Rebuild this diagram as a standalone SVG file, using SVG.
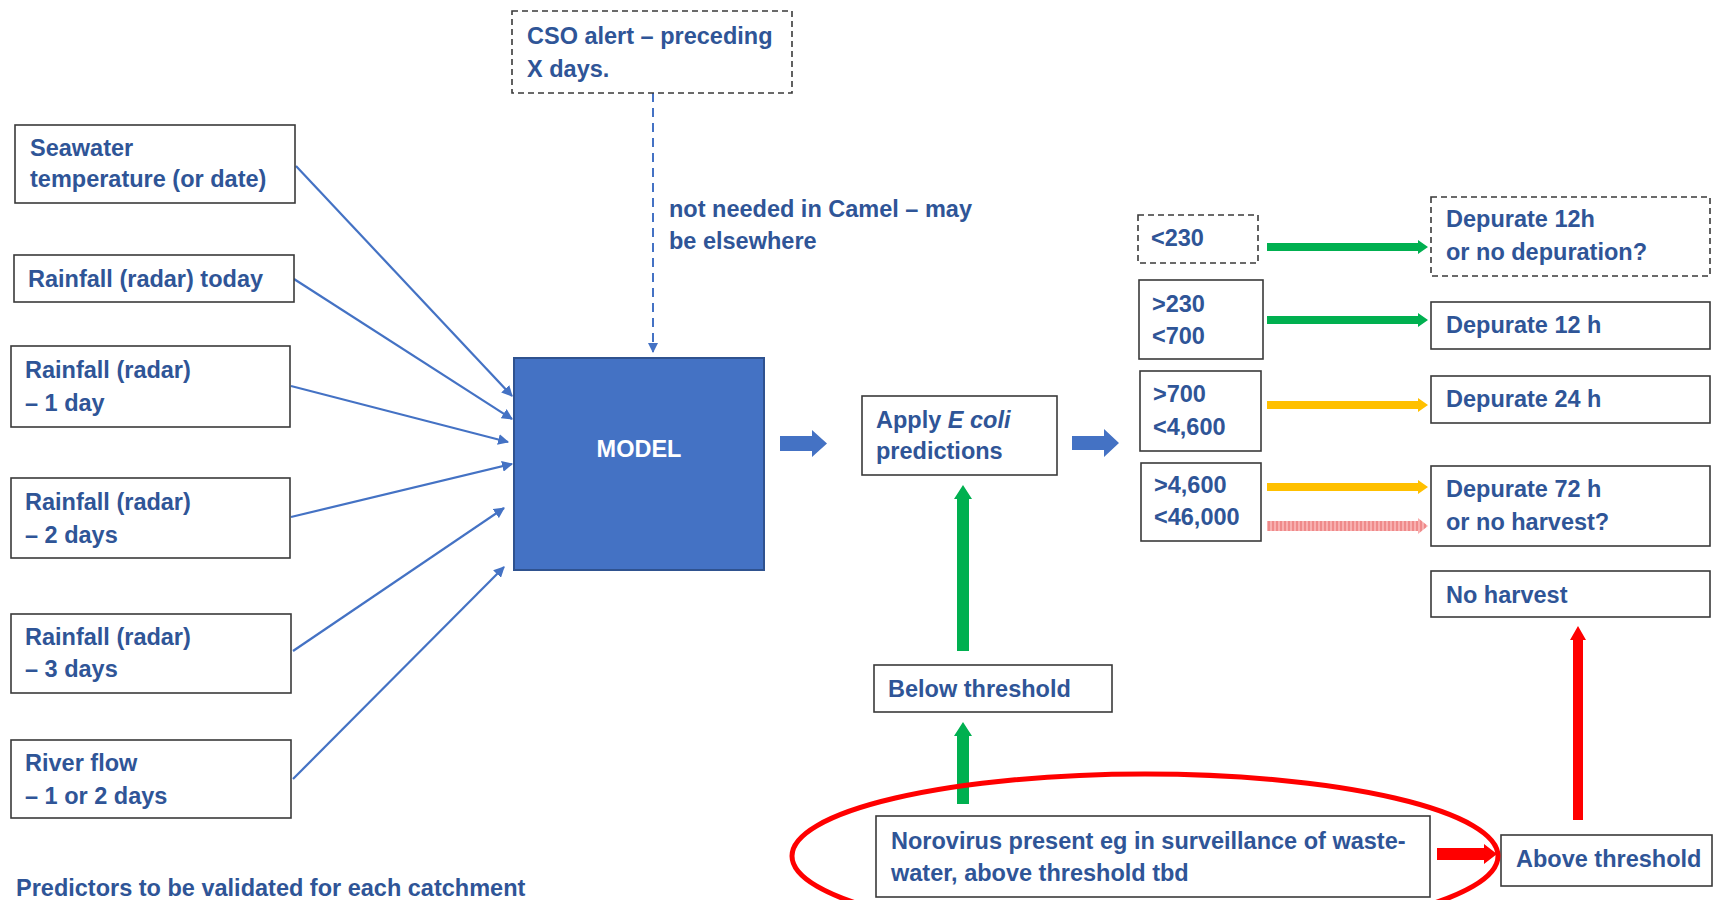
<svg xmlns="http://www.w3.org/2000/svg" width="1715" height="900" viewBox="0 0 1715 900">
<style>
.box{fill:#fff;stroke:#3a3a3a;stroke-width:1.6}
.dbox{fill:#fff;stroke:#3a3a3a;stroke-width:1.6;stroke-dasharray:6,4}
.t{font-family:"Liberation Sans",Arial,sans-serif;font-weight:bold;font-size:23.5px;fill:#2F5597}
.w{font-family:"Liberation Sans",Arial,sans-serif;font-weight:bold;font-size:23.5px;fill:#fff}
.ln{stroke:#4472C4;stroke-width:2.2;fill:none;marker-end:url(#ah)}
.dl{stroke:#4472C4;stroke-width:2;fill:none;stroke-dasharray:9,6;marker-end:url(#ah)}
.blue{fill:#4472C4}
.green{fill:#00B050}
.yellow{fill:#FFC000}
.red{fill:#FF0000}
</style>
<defs>
<marker id="ah" viewBox="0 0 10 10" refX="9" refY="5" markerWidth="5" markerHeight="5" orient="auto">
<path d="M0,0 L10,5 L0,10 z" fill="#4472C4"/>
</marker>
<pattern id="stripe" width="4" height="4" patternUnits="userSpaceOnUse">
<rect width="4" height="4" fill="#F8B0B0"/>
<rect width="2" height="4" fill="#EF8A8A"/>
</pattern>
</defs>
<rect width="1715" height="900" fill="#fff"/>

<g id="connectors">
<line class="dl" x1="653" y1="93" x2="653" y2="352"/>
<line class="ln" x1="296" y1="166" x2="512" y2="396"/>
<line class="ln" x1="294" y1="279" x2="512" y2="419"/>
<line class="ln" x1="291" y1="386" x2="508" y2="442"/>
<line class="ln" x1="291" y1="517" x2="512" y2="464"/>
<line class="ln" x1="293" y1="651" x2="504" y2="508"/>
<line class="ln" x1="293" y1="779" x2="504" y2="567"/>
<polygon class="blue" points="780,436 812,436 812,430 827,443.5 812,457 812,451 780,451"/>
<polygon class="blue" points="1072,436 1104,436 1104,429 1119,443 1104,457 1104,450 1072,450"/>
<polygon class="green" points="1267,243 1418,243 1418,240 1428,247 1418,254 1418,251 1267,251"/>
<polygon class="green" points="1267,316 1418,316 1418,313 1428,320 1418,327 1418,324 1267,324"/>
<polygon class="yellow" points="1267,401 1418,401 1418,398 1428,405 1418,412 1418,409 1267,409"/>
<polygon class="yellow" points="1267,483 1418,483 1418,480 1428,487 1418,494 1418,491 1267,491"/>
<polygon fill="url(#stripe)" points="1267,521 1418,521 1418,518 1428,526 1418,534 1418,531 1267,531"/>
<polygon class="green" points="957,651 957,499 954,499 963,485 972,499 969,499 969,651"/>
<polygon class="green" points="957,804 957,736 954,736 963,722 972,736 969,736 969,804"/>
<polygon class="red" points="1573,820 1573,640 1570,640 1578,626 1586,640 1583,640 1583,820"/>
<polygon class="red" points="1437,848 1484,848 1484,844 1497,854 1484,864 1484,860 1437,860"/>
</g>

<g id="cso"><rect class="dbox" x="512" y="11" width="280" height="82"/>
<text class="t" x="527" y="44">CSO alert – preceding</text><text class="t" x="527" y="77">X days.</text></g>
<g id="note"><text class="t" x="669" y="217">not needed in Camel – may</text><text class="t" x="669" y="249">be elsewhere</text></g>

<g id="seawater"><rect class="box" x="15" y="125" width="280" height="78"/>
<text class="t" x="30" y="156">Seawater</text><text class="t" x="30" y="187">temperature (or date)</text></g>
<g id="rain0"><rect class="box" x="14" y="255" width="280" height="47"/>
<text class="t" x="28" y="287">Rainfall (radar) today</text></g>
<g id="rain1"><rect class="box" x="11" y="346" width="279" height="81"/>
<text class="t" x="25" y="378">Rainfall (radar)</text><text class="t" x="25" y="411">– 1 day</text></g>
<g id="rain2"><rect class="box" x="11" y="478" width="279" height="80"/>
<text class="t" x="25" y="510">Rainfall (radar)</text><text class="t" x="25" y="543">– 2 days</text></g>
<g id="rain3"><rect class="box" x="11" y="614" width="280" height="79"/>
<text class="t" x="25" y="645">Rainfall (radar)</text><text class="t" x="25" y="677">– 3 days</text></g>
<g id="river"><rect class="box" x="11" y="740" width="280" height="78"/>
<text class="t" x="25" y="771">River flow</text><text class="t" x="25" y="804">– 1 or 2 days</text></g>
<g id="predictors"><text class="t" x="16" y="896">Predictors to be validated for each catchment</text></g>

<g id="model"><rect x="514" y="358" width="250" height="212" fill="#4472C4" stroke="#2F528F" stroke-width="2"/>
<text class="w" x="639" y="457" text-anchor="middle">MODEL</text></g>

<g id="apply"><rect class="box" x="862" y="396" width="195" height="79"/>
<text class="t" x="876" y="428">Apply <tspan font-style="italic">E coli</tspan></text><text class="t" x="876" y="459">predictions</text></g>

<g id="r230"><rect class="dbox" x="1138" y="215" width="120" height="48"/>
<text class="t" x="1151" y="246">&lt;230</text></g>
<g id="r700"><rect class="box" x="1139" y="280" width="124" height="79"/>
<text class="t" x="1152" y="312">&gt;230</text><text class="t" x="1152" y="344">&lt;700</text></g>
<g id="r4600"><rect class="box" x="1140" y="371" width="121" height="80"/>
<text class="t" x="1153" y="402">&gt;700</text><text class="t" x="1153" y="435">&lt;4,600</text></g>
<g id="r46000"><rect class="box" x="1141" y="463" width="120" height="78"/>
<text class="t" x="1154" y="493">&gt;4,600</text><text class="t" x="1154" y="525">&lt;46,000</text></g>

<g id="dep12q"><rect class="dbox" x="1431" y="197" width="279" height="79"/>
<text class="t" x="1446" y="227">Depurate 12h</text><text class="t" x="1446" y="260">or no depuration?</text></g>
<g id="dep12"><rect class="box" x="1431" y="302" width="279" height="47"/>
<text class="t" x="1446" y="333">Depurate 12 h</text></g>
<g id="dep24"><rect class="box" x="1431" y="376" width="279" height="47"/>
<text class="t" x="1446" y="407">Depurate 24 h</text></g>
<g id="dep72"><rect class="box" x="1431" y="466" width="279" height="80"/>
<text class="t" x="1446" y="497">Depurate 72 h</text><text class="t" x="1446" y="530">or no harvest?</text></g>
<g id="noharvest"><rect class="box" x="1431" y="571" width="279" height="46"/>
<text class="t" x="1446" y="603">No harvest</text></g>

<g id="below"><rect class="box" x="874" y="665" width="238" height="47"/>
<text class="t" x="888" y="697">Below threshold</text></g>
<g id="norovirus"><rect class="box" x="876" y="816" width="554" height="81"/>
<text class="t" x="891" y="849">Norovirus present eg in surveillance of waste-</text><text class="t" x="891" y="881">water, above threshold tbd</text></g>
<g id="above"><rect class="box" x="1501" y="835" width="211" height="51"/>
<text class="t" x="1516" y="867">Above threshold</text></g>

<g id="highlight"><ellipse cx="1145" cy="856" rx="353" ry="82" fill="none" stroke="#FF0000" stroke-width="5"/></g>
</svg>
